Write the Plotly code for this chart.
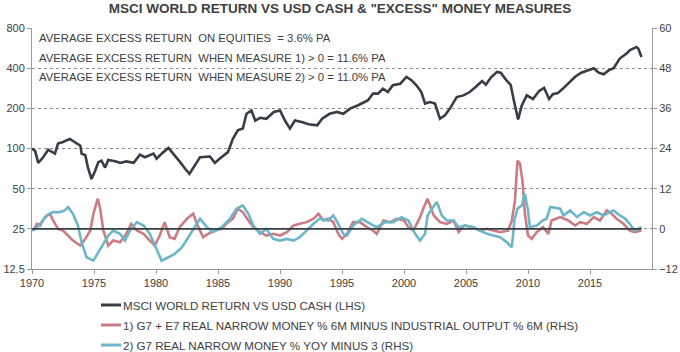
import math
import plotly.graph_objects as go

# ---------------- DATA ----------------
msci_x = [1970.0, 1970.25, 1970.5, 1970.9, 1971.3, 1971.85, 1972.1, 1972.5, 1973.05, 1973.6, 1973.9, 1974.0,
          1974.3, 1974.5, 1974.8, 1975.1, 1975.35, 1975.6, 1975.9, 1976.15, 1976.8, 1977.1, 1977.6, 1978.2,
          1978.7, 1979.1, 1979.8, 1980.05, 1980.45, 1981.0, 1981.4, 1981.9, 1982.35, 1982.7, 1983.3, 1983.55,
          1984.35, 1984.75, 1985.15, 1985.8, 1986.2, 1986.6, 1987.0, 1987.3, 1987.7, 1988.0, 1988.4, 1988.9,
          1989.5, 1990.0, 1990.4, 1990.8, 1991.2, 1991.75, 1992.3, 1993.0, 1993.4, 1994.0, 1994.6, 1995.1,
          1995.65, 1996.3, 1997.1, 1997.5, 1997.9, 1998.3, 1998.7, 1999.1, 1999.7, 2000.2, 2000.6, 2001.0,
          2001.4, 2001.7, 2002.1, 2002.5, 2002.9, 2003.3, 2003.7, 2004.25, 2004.8, 2005.3, 2005.8, 2006.3,
          2006.6, 2007.0, 2007.5, 2007.8, 2008.2, 2008.6, 2008.9, 2009.2, 2009.5, 2009.9, 2010.4, 2010.9,
          2011.3, 2011.7, 2012.0, 2012.4, 2012.8, 2013.3, 2013.8, 2014.3, 2014.8, 2015.3, 2015.7, 2016.1,
          2016.5, 2016.9, 2017.4, 2017.95, 2018.2, 2018.5, 2018.75, 2018.9, 2019.0, 2019.15]
msci_y = [100, 96, 78, 86, 98, 91.5, 109, 112, 118, 109, 105, 91.5,
          89, 72.5, 59, 68.5, 79, 81, 72, 82, 80, 78, 80, 78,
          90, 86, 91.5, 84, 91.5, 101, 91.5, 80, 70.5, 64.6, 79, 86,
          87, 78, 84, 94, 118, 137, 141, 182, 193, 162, 170, 167,
          188, 193, 162, 141, 162, 158, 152, 149, 167, 182, 188, 182,
          199, 211, 230, 258, 258, 281, 265, 298, 306, 344, 325, 298,
          265, 217, 223, 217, 167, 177, 199, 243, 250, 265, 290, 320,
          300, 340, 375, 370, 330, 300, 220, 165, 210, 250, 235, 270,
          285, 235, 255, 260, 280, 310, 345, 370, 385, 400, 370, 360,
          385, 400, 472, 515, 545, 560, 577, 560, 528, 485]

m1_x = [1970.1, 1970.4, 1970.65, 1971.05, 1971.45, 1971.7, 1972.1, 1972.5, 1972.9, 1973.3, 1973.9, 1974.3,
        1974.7, 1974.95, 1975.3, 1975.5, 1975.75, 1976.15, 1976.55, 1977.1, 1977.6, 1978.0, 1978.45, 1979.0,
        1979.5, 1979.9, 1980.3, 1980.7, 1981.1, 1981.5, 1981.9, 1982.5, 1983.0, 1983.3, 1983.8, 1984.2,
        1984.75, 1985.3, 1985.8, 1986.2, 1986.6, 1987.0, 1987.45, 1987.85, 1988.4, 1988.9, 1989.45, 1990.0,
        1990.55, 1991.1, 1991.6, 1992.15, 1992.7, 1993.1, 1993.5, 1993.9, 1994.3, 1994.7, 1995.0, 1995.4,
        1995.9, 1996.45, 1997.0, 1997.5, 1997.8, 1998.35, 1998.9, 1999.4, 2000.0, 2000.35, 2000.75, 2001.3,
        2001.55, 2001.9, 2002.1, 2002.4, 2002.9, 2003.45, 2004.0, 2004.4, 2004.9, 2005.6, 2006.1, 2006.7,
        2007.2, 2007.75, 2008.4, 2008.7, 2008.95, 2009.15, 2009.35, 2009.55, 2009.75, 2010.0, 2010.3, 2010.7,
        2011.2, 2011.65, 2011.9, 2012.6, 2013.25, 2013.8, 2014.2, 2014.75, 2015.3, 2015.8, 2016.35, 2016.75,
        2017.15, 2017.7, 2018.2, 2018.6, 2019.15]
m1_y = [-0.5, 1.5, 1.0, 3.5, 4.5, 2.5, 0.0, -0.5, -2.0, -3.5, -5.0, -3.0,
        -0.5, 4.5, 9.0, 6.0, -0.5, -5.0, -3.5, -4.0, -1.5, 1.5, -0.5, -1.5,
        -3.5, -5.0, -2.0, 2.0, -2.5, -3.0, 0.5, 3.0, 4.5, 1.5, -2.5, -1.5,
        -0.5, 0.0, 2.0, 3.0, 6.0, 5.0, 2.5, 0.5, -1.0, -2.0, -1.5, -2.0,
        -1.0, 1.0, 1.5, 2.0, 3.0, 4.5, 2.5, 3.0, 2.0, -1.5, -3.0, -1.5,
        2.0, 2.0, 0.5, -0.5, -1.5, 2.5, 2.0, 3.0, 2.5, 0.5, -0.5, 3.5,
        6.0, 9.0, 7.0, 4.0, 2.0, 1.5, 2.5, -1.0, 1.0, 0.5, -0.5, 0.0,
        -0.5, -1.0, -0.5, 2.5, 8.5, 20.4, 19.5, 14.5, 4.5, -2.0, -3.0, -1.0,
        0.5, -1.5, 2.5, 3.5, 2.5, 1.0, 2.0, 1.5, 3.5, 2.5, 5.5, 4.5,
        3.0, 1.5, -0.5, -1.0, -0.5]

m2_x = [1970.0, 1970.3, 1970.65, 1971.2, 1971.7, 1972.25, 1972.65, 1972.9, 1973.3, 1973.7, 1974.0, 1974.4,
        1974.95, 1975.35, 1975.75, 1976.15, 1976.55, 1977.1, 1977.5, 1977.9, 1978.45, 1979.0, 1979.5, 1979.9,
        1980.45, 1981.0, 1981.5, 1982.1, 1982.6, 1983.15, 1983.55, 1984.1, 1984.6, 1985.3, 1985.95, 1986.5,
        1987.0, 1987.45, 1987.85, 1988.4, 1988.9, 1989.45, 1990.0, 1990.55, 1991.1, 1991.6, 1992.15, 1992.7,
        1993.2, 1993.9, 1994.3, 1994.7, 1995.1, 1995.4, 1995.9, 1996.6, 1997.3, 1997.8, 1998.5, 1999.15,
        1999.8, 2000.35, 2000.9, 2001.3, 2001.7, 2001.9, 2002.25, 2002.65, 2003.05, 2003.45, 2004.0, 2004.4,
        2004.9, 2005.6, 2006.1, 2006.7, 2007.2, 2007.75, 2008.3, 2008.7, 2008.9, 2009.15, 2009.5, 2009.75,
        2010.0, 2010.15, 2010.7, 2011.2, 2011.5, 2011.8, 2012.6, 2012.85, 2013.4, 2013.95, 2014.5, 2015.0,
        2015.55, 2016.1, 2016.6, 2016.9, 2017.4, 2017.85, 2018.2, 2018.6, 2019.15]
m2_y = [-0.5, 0.0, 1.5, 4.0, 5.0, 5.0, 5.5, 6.5, 4.5, 1.0, -4.0, -8.5,
        -9.5, -7.0, -4.5, -2.0, -0.5, -1.5, -3.5, -0.5, 2.0, 1.0, -1.5, -5.0,
        -9.5, -8.5, -7.5, -5.5, -2.5, 1.0, 3.0, 0.5, -1.0, 0.5, 3.0, 6.0,
        7.0, 4.5, 1.0, -1.5, 0.0, -3.0, -3.5, -3.0, -3.5, -2.5, -0.5, 1.5,
        3.0, 2.5, 4.0, 1.5, -1.5, -2.0, 1.0, 3.0, 1.5, 0.5, 2.0, 2.0,
        3.5, 2.5, -1.5, -3.5, -1.5, 4.0, 6.0, 8.0, 4.0, 2.5, 2.5, 0.5,
        1.0, 0.5, -0.5, -1.5, -2.0, -2.5, -4.0, -5.5, 2.5, 6.0, 7.0, 10.5,
        5.5, 0.5, 1.0, 2.5, 3.0, 6.5, 6.0, 4.0, 5.5, 3.5, 5.0, 4.0,
        5.0, 4.0, 5.0, 5.5, 4.0, 3.0, 1.5, -0.5, 0.5]

zero_x = [1970.0, 2019.15]
zero_y = [0, 0]

left_ticks = [12.5, 25, 50, 100, 200, 400, 800]
left_ticktext = ["12.5", "25", "50", "100", "200", "400", "800"]
right_ticks = [-12, 0, 12, 24, 36, 48, 60]
year_ticks = [1970, 1975, 1980, 1985, 1990, 1995, 2000, 2005, 2010, 2015]

title_text = 'MSCI WORLD RETURN VS USD CASH &amp; "EXCESS" MONEY MEASURES'
notes = ["AVERAGE EXCESS RETURN  ON EQUITIES  = 3.6% PA",
         "AVERAGE EXCESS RETURN  WHEN MEASURE 1) &gt; 0 = 11.6% PA",
         "AVERAGE EXCESS RETURN  WHEN MEASURE 2) &gt; 0 = 11.0% PA"]
names = ["MSCI WORLD RETURN VS USD CASH (LHS)",
         "1) G7 + E7 REAL NARROW MONEY % 6M MINUS INDUSTRIAL OUTPUT % 6M (RHS)",
         "2) G7 REAL NARROW MONEY % YOY MINUS 3 (RHS)"]

# ---------------- STYLE ----------------
DARK = "#363d45"
RED = "#c97d83"
BLUE = "#6db6ca"
COLORS = [DARK, RED, BLUE]
TXT = "#404040"
FONT = "Liberation Sans, Arial, sans-serif"

W, H = 680, 352
ML, MR, MT, MB = 32, 28, 28, 83
PW, PH = W - ML - MR, H - MT - MB


def px_x(p):
    return (p - ML) / PW


def px_y(p):
    return (H - MB - p) / PH


fig = go.Figure()
fig.add_trace(go.Scatter(x=msci_x, y=msci_y, name=names[0], mode="lines",
                         line=dict(color=DARK, width=2.6), yaxis="y"))
fig.add_trace(go.Scatter(x=m1_x, y=m1_y, name=names[1], mode="lines",
                         line=dict(color=RED, width=2.6), yaxis="y2"))
fig.add_trace(go.Scatter(x=m2_x, y=m2_y, name=names[2], mode="lines",
                         line=dict(color=BLUE, width=2.6), yaxis="y2"))
fig.add_trace(go.Scatter(x=zero_x, y=zero_y, mode="lines", showlegend=False,
                         line=dict(color=DARK, width=1.8), yaxis="y2", hoverinfo="skip"))

fig.update_layout(
    width=W, height=H,
    margin=dict(l=ML, r=MR, t=MT, b=MB, autoexpand=False),
    paper_bgcolor="white", plot_bgcolor="white",
    font=dict(family=FONT, size=11, color=TXT),
    title=dict(text="<b>" + title_text + "</b>", x=0.5, xanchor="center",
               yref="container", y=1 - 8.5 / H, yanchor="middle",
               font=dict(family=FONT, size=13.5, color=TXT)),
    showlegend=False,
    xaxis=dict(range=[1970, 2020], tickvals=year_ticks, ticks="outside", ticklen=4,
               tickcolor="#999999", showline=True, linecolor="#999999", linewidth=1,
               showgrid=False, zeroline=False, tickfont=dict(size=11, color=TXT)),
    yaxis=dict(type="log", range=[math.log10(12.5), math.log10(800)], tickvals=left_ticks,
               ticktext=left_ticktext, ticks="outside", ticklen=4, tickcolor="#999999",
               showline=True, linecolor="#999999", linewidth=1, showgrid=True,
               gridcolor="#8c8c8c", griddash="dot", gridwidth=1, zeroline=False,
               tickfont=dict(size=11, color=TXT)),
    yaxis2=dict(range=[-12, 60], tickvals=right_ticks, overlaying="y", side="right",
                ticks="outside", ticklen=4, tickcolor="#999999", showline=True,
                linecolor="#999999", linewidth=1, showgrid=False, zeroline=False,
                tickfont=dict(size=11, color=TXT)),
)

# text box notes
note_py = [38, 57.5, 77]
for t, yy in zip(notes, note_py):
    fig.add_annotation(text=t, xref="paper", yref="paper", x=px_x(37), y=px_y(yy), xanchor="left",
                       yanchor="middle", showarrow=False, font=dict(family=FONT, size=11.3, color=TXT))

# legend (manual, below the plot)
leg_py = [305, 325, 345]
for name, col, yy in zip(names, COLORS, leg_py):
    fig.add_shape(type="line", xref="paper", yref="paper", x0=px_x(101), x1=px_x(121),
                  y0=px_y(yy), y1=px_y(yy), line=dict(color=col, width=3))
    fig.add_annotation(text=name, xref="paper", yref="paper", x=px_x(121), y=px_y(yy),
                       xanchor="left", yanchor="middle", showarrow=False,
                       font=dict(family=FONT, size=11.6, color=TXT))

fig.write_html("out.html")
